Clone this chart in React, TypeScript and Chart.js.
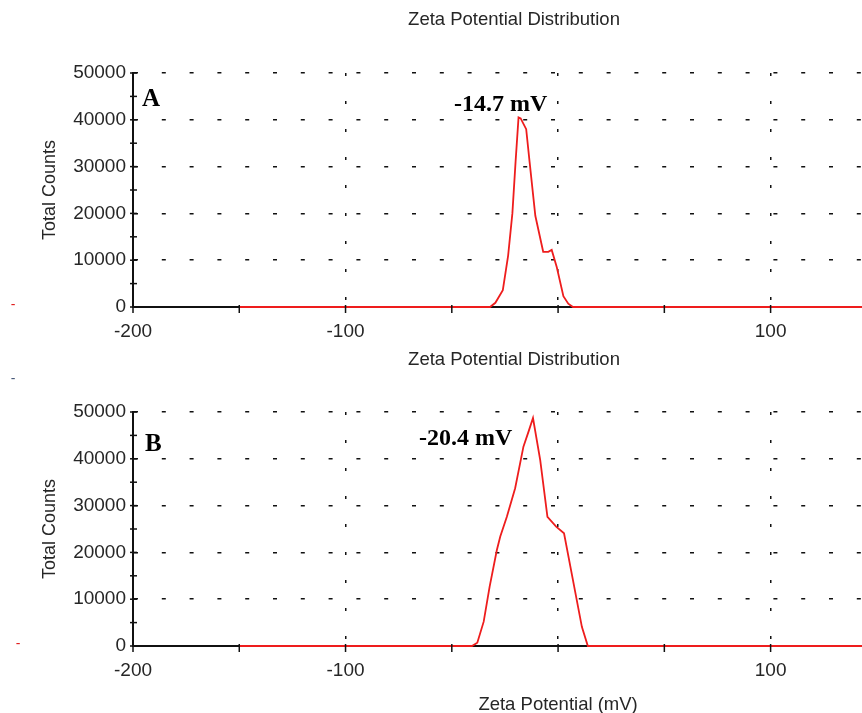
import React, { useEffect, useRef } from 'react';
import { Chart, registerables } from 'chart.js';

Chart.register(...registerables);

// ---- data ----
const X_MIN = -200;
const X_MAX = 143;
const X_TICKS = [-200, -150, -100, -50, 0, 50, 100];
const X_LABELS = [-200, -100, 100];
const X_GRID = [-100, 0, 100];
const Y_MAX = 50000;
const Y_STEP = 5000;
const Y_LABEL_STEP = 10000;

const zetaA = [-150, -32, -29.5, -26, -23.5, -21.5, -20, -18.6, -17.6, -15, -13.4, -10.7, -7, -4.6, -3, -0.6, 2.5, 4.8, 7, 143];
const countsA = [0, 0, 900, 3600, 11000, 20000, 31000, 40500, 40300, 38000, 31000, 19500, 11800, 11800, 12200, 8500, 2300, 700, 0, 0];

const zetaB = [-150, -40.5, -38, -35, -32.2, -28.8, -27.2, -24.1, -20.2, -16.3, -13.9, -11.8, -8.4, -5, -0.9, 2.8, 11.2, 14, 143];
const countsB = [0, 0, 700, 5200, 12700, 20500, 23400, 27600, 33700, 42600, 45800, 48700, 39700, 27600, 25500, 24100, 4100, 0, 0];

const TITLE = 'Zeta Potential Distribution';
const Y_TITLE = 'Total Counts';
const X_TITLE = 'Zeta Potential (mV)';

// ---- styles ----
const RED = '#ee1d1d';
const INK = '#111111';
const TEXT = '#262626';
const SANS = '"Liberation Sans", Arial, sans-serif';
const SERIF = '"Liberation Serif", "Times New Roman", serif';

type PanelCfg = {
  xs: number[];
  ys: number[];
  height: number;
  top: number;
  padTop: number;
  plotBottom: number;
  letter: string;
  letterPos: [number, number];
  value: string;
  valuePos: [number, number];
  titleY: number;
  xTitleY?: number;
  marks: { x: number; y: number; color: string }[];
};

const overlay = {
  id: 'overlay',
  afterDatasetsDraw(chart: any) {
    const { ctx, chartArea, scales } = chart;
    const xs = scales.x;
    const ys = scales.y;
    ctx.save();
    ctx.strokeStyle = INK;
    ctx.lineWidth = 1.5;
    X_TICKS.forEach((v) => {
      const px = xs.getPixelForValue(v);
      ctx.beginPath();
      ctx.moveTo(px, chartArea.bottom - 2);
      ctx.lineTo(px, chartArea.bottom + 6);
      ctx.stroke();
    });
    ys.ticks.forEach((t: any) => {
      const py = ys.getPixelForValue(t.value);
      ctx.beginPath();
      ctx.moveTo(chartArea.left - 3, py);
      ctx.lineTo(chartArea.left + 4, py);
      ctx.stroke();
    });
    ctx.restore();
  },
  afterDraw(chart: any, _args: any, o: any) {
    const { ctx, chartArea, scales } = chart;
    const cfg: PanelCfg = o.cfg;
    ctx.save();
    ctx.fillStyle = TEXT;
    ctx.textBaseline = 'middle';
    ctx.textAlign = 'center';
    ctx.font = `18.5px ${SANS}`;
    ctx.fillText(TITLE, 514, cfg.titleY);
    if (cfg.xTitleY !== undefined) {
      ctx.fillText(X_TITLE, scales.x.getPixelForValue(0), cfg.xTitleY);
    }
    ctx.save();
    ctx.translate(50, (chartArea.top + chartArea.bottom) / 2);
    ctx.rotate(-Math.PI / 2);
    ctx.font = `18px ${SANS}`;
    ctx.fillText(Y_TITLE, 0, 0);
    ctx.restore();

    ctx.fillStyle = '#000';
    ctx.textAlign = 'left';
    ctx.textBaseline = 'alphabetic';
    ctx.font = `bold 25px ${SERIF}`;
    ctx.fillText(cfg.letter, cfg.letterPos[0], cfg.letterPos[1]);
    ctx.font = `bold 24px ${SERIF}`;
    ctx.fillText(cfg.value, cfg.valuePos[0], cfg.valuePos[1]);

    ctx.font = `14px ${SANS}`;
    ctx.textAlign = 'center';
    ctx.textBaseline = 'middle';
    cfg.marks.forEach((m) => {
      ctx.fillStyle = m.color;
      ctx.fillText('-', m.x, m.y);
    });
    ctx.restore();
  },
};

function buildConfig(cfg: PanelCfg): any {
  const xAxisH = cfg.height - cfg.plotBottom;
  return {
    type: 'line',
    data: {
      datasets: [
        {
          data: cfg.xs.map((x, i) => ({ x, y: cfg.ys[i] })),
          borderColor: RED,
          borderWidth: 1.8,
          pointRadius: 0,
          tension: 0,
          fill: false,
          clip: false,
        },
      ],
    },
    options: {
      animation: false,
      responsive: false,
      maintainAspectRatio: false,
      events: [],
      layout: { padding: { top: cfg.padTop, left: 0, right: 0, bottom: 0 } },
      plugins: {
        legend: { display: false },
        tooltip: { enabled: false },
        title: { display: false },
        overlay: { cfg },
      },
      scales: {
        x: {
          type: 'linear',
          min: X_MIN,
          max: X_MAX,
          afterBuildTicks: (s: any) => {
            s.ticks = X_TICKS.map((v) => ({ value: v }));
          },
          afterFit: (s: any) => {
            s.height = xAxisH;
          },
          grid: {
            drawTicks: false,
            lineWidth: 1.5,
            color: (c: any) => (c.tick && X_GRID.includes(c.tick.value) ? INK : 'rgba(0,0,0,0)'),
          },
          border: { display: true, color: INK, width: 2, dash: [3, 25] },
          ticks: {
            autoSkip: false,
            maxRotation: 0,
            padding: 13,
            color: TEXT,
            font: { family: SANS, size: 19 },
            callback: (v: number) => (X_LABELS.includes(v) ? String(v) : ''),
          },
        },
        y: {
          type: 'linear',
          min: 0,
          max: Y_MAX,
          afterFit: (s: any) => {
            s.width = 133;
          },
          grid: {
            drawTicks: false,
            lineWidth: 1.5,
            color: (c: any) =>
              c.tick && c.tick.value > 0 && c.tick.value % Y_LABEL_STEP === 0 ? INK : 'rgba(0,0,0,0)',
          },
          border: { display: true, color: INK, width: 2, dash: [4, 23.8] },
          ticks: {
            stepSize: Y_STEP,
            autoSkip: false,
            padding: 7,
            color: TEXT,
            font: { family: SANS, size: 19 },
            callback: (v: number) => (v % Y_LABEL_STEP === 0 ? String(v) : ''),
          },
        },
      },
    },
    plugins: [overlay],
  };
}

const panelA: PanelCfg = {
  xs: zetaA,
  ys: countsA,
  top: 0,
  height: 345,
  padTop: 73,
  plotBottom: 307,
  letter: 'A',
  letterPos: [142, 106],
  value: '-14.7 mV',
  valuePos: [454, 111],
  titleY: 20,
  marks: [{ x: 13, y: 305, color: '#e02020' }],
};

const panelB: PanelCfg = {
  xs: zetaB,
  ys: countsB,
  top: 345,
  height: 368,
  padTop: 67,
  plotBottom: 301,
  letter: 'B',
  letterPos: [145, 106],
  value: '-20.4 mV',
  valuePos: [419, 100],
  titleY: 15,
  xTitleY: 360,
  marks: [
    { x: 18, y: 299, color: '#e02020' },
    { x: 13, y: 34, color: '#4a5a7a' },
  ],
};

function Panel({ cfg }: { cfg: PanelCfg }) {
  const ref = useRef<HTMLCanvasElement>(null);
  useEffect(() => {
    const chart = new Chart(ref.current as HTMLCanvasElement, buildConfig(cfg));
    return () => chart.destroy();
  }, [cfg]);
  return (
    <canvas
      ref={ref}
      width={862}
      height={cfg.height}
      style={{ position: 'absolute', left: 0, top: cfg.top, width: 862, height: cfg.height, display: 'block' }}
    />
  );
}

export default function App() {
  return (
    <div
      style={{
        position: 'absolute',
        left: 0,
        top: 0,
        width: 862,
        height: 713,
        background: '#ffffff',
        overflow: 'hidden',
      }}
    >
      <Panel cfg={panelA} />
      <Panel cfg={panelB} />
    </div>
  );
}
